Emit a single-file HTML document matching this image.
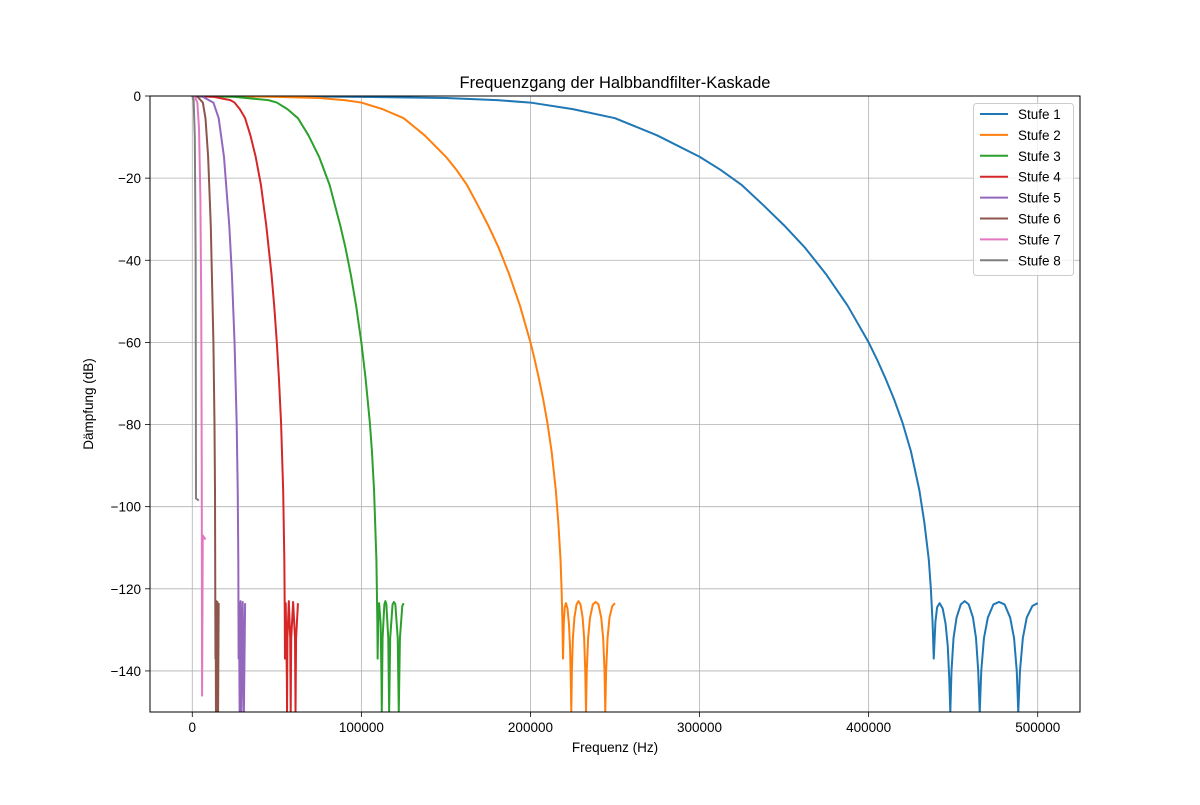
<!DOCTYPE html>
<html><head><meta charset="utf-8"><style>
body{margin:0;background:#fff;}
svg{font-family:"Liberation Sans","DejaVu Sans",sans-serif;}
</style></head><body>
<svg id="chart" width="1200" height="800" viewBox="0 0 1200 800">
<defs><clipPath id="clip"><rect x="150" y="96" width="930" height="616"/></clipPath></defs>
<rect width="1200" height="800" fill="#fff"/>
<text x="615" y="88" text-anchor="middle" font-size="16.5">Frequenzgang der Halbbandfilter-Kaskade</text>
<g id="grid"></g><g id="series" clip-path="url(#clip)"></g><g id="axes"></g><g id="legend"></g>
<text x="615" y="752" text-anchor="middle" font-size="13.5">Frequenz (Hz)</text>
<text transform="translate(93,404) rotate(-90)" text-anchor="middle" font-size="13.5">Dämpfung (dB)</text>
</svg>
<script>
const seriesNames = ["Stufe 1","Stufe 2","Stufe 3","Stufe 4","Stufe 5","Stufe 6","Stufe 7","Stufe 8"];
const xTicks = [0,100000,200000,300000,400000,500000];
const yTicks = [0,-20,-40,-60,-80,-100,-120,-140];
const stage1 = [[0,0],[50000,-0.05],[100000,-0.2],[150000,-0.5],[180000,-1],[200000,-1.6],[225000,-3.2],[250000,-5.4],[275000,-9.6],[300000,-14.8],[312500,-18],[325000,-21.7],[337500,-26.5],[350000,-31.5],[362500,-37],[375000,-43.5],[387500,-51],[400000,-60],[405000,-64.2],[410000,-68.8],[415000,-73.8],[420000,-79.5],[425000,-86.5],[430000,-96],[433000,-104],[435600,-113],[436800,-120],[437800,-128],[438500,-137],
[439500,-128],[440500,-124.5],[442000,-123.5],[443800,-124.8],[445500,-128.5],[446800,-134],[447700,-142],[448300,-150],
[449000,-140],[450200,-132],[452000,-127],[454500,-123.8],[456800,-123],[459200,-123.8],[461700,-127],[463500,-132],[464800,-140],[465700,-150],
[466600,-140],[468200,-132],[470500,-127],[473800,-123.8],[477100,-123.2],[480400,-123.8],[483700,-127],[486000,-132],[487600,-140],[488500,-150],
[489500,-140],[491200,-132],[493500,-127],[496800,-124.2],[500000,-123.5]];
const stage2 = [[0,0],[25000,-0.05],[50000,-0.2],[75000,-0.5],[90000,-1],[100000,-1.6],[112500,-3.2],[125000,-5.4],[137500,-9.6],[150000,-14.8],[156250,-18],[162500,-21.7],[168750,-26.5],[175000,-31.5],[181250,-37],[187500,-43.5],[193750,-51],[200000,-60],[202500,-64.2],[205000,-68.8],[207500,-73.8],[210000,-79.5],[212500,-86.5],[215000,-96],[216500,-104],[217800,-113],[218400,-120],[218900,-128],[219250,-137],
[219750,-128],[220250,-124.5],[221000,-123.5],[221900,-124.8],[222750,-128.5],[223400,-134],[223850,-142],[224150,-150],
[224500,-140],[225100,-132],[226000,-127],[227250,-123.8],[228400,-123],[229600,-123.8],[230850,-127],[231750,-132],[232400,-140],[232850,-150],
[233300,-140],[234100,-132],[235250,-127],[236900,-123.8],[238550,-123.2],[240200,-123.8],[241850,-127],[243000,-132],[243800,-140],[244250,-150],
[244750,-140],[245600,-132],[246750,-127],[248400,-124.2],[250000,-123.5]];
const stage3 = [[0,0],[25000,-0.2],[45000,-1],[50000,-1.6],[56250,-3.2],[62500,-5.4],[68750,-9.6],[75000,-14.8],[81250,-21.7],[87500,-31.5],[90625,-37],[93750,-43.5],[96875,-51],[100000,-60],[102500,-68.8],[105000,-79.5],[106250,-86.5],[107500,-96],[108900,-113],[109450,-128],[109625,-137],[110100,-124.5],[110500,-123.5],[111400,-128.5],[111900,-142],[112075,-150],[112550,-132],[113600,-123.8],[114200,-123],[114800,-123.8],[115900,-132],[116425,-150],[117050,-132],[118450,-123.8],[119275,-123.2],[120100,-123.8],[121500,-132],[122125,-150],[122800,-132],[124200,-124.2],[125000,-123.5]];
const stage4 = [[0,0],[12500,-0.2],[22500,-1],[25000,-1.6],[28125,-3.2],[31250,-5.4],[34375,-9.6],[37500,-14.8],[40625,-21.7],[43750,-31.5],[46875,-43.5],[48440,-51],[50000,-60],[51250,-68.8],[52500,-79.5],[53750,-96],[54450,-113],[54725,-128],[54810,-137],[55250,-123.5],[55950,-142],[56040,-150],[56275,-132],[57100,-123],[57925,-132],[58210,-150],[58525,-132],[59640,-123.2],[60750,-132],[61060,-150],[61400,-132],[62500,-123.5]];
const stage5 = [[0,0],[6250,-0.2],[12500,-1.6],[15625,-5.4],[18750,-14.8],[21875,-31.5],[23440,-43.5],[25000,-60],[26250,-79.5],[26875,-96],[27225,-113],[27400,-137],[27625,-123.5],[28020,-150],[28550,-123],[29100,-150],[29820,-123.2],[30530,-150],[31250,-123.5]];
const stage6 = [[0,0],[3125,-0.2],[6250,-1.6],[7810,-5.4],[9375,-14.8],[10940,-31.5],[12500,-60],[13125,-79.5],[13440,-96],[13700,-137],[13810,-123.5],[14010,-150],[14275,-123],[14550,-150],[14910,-123.2],[15265,-150],[15625,-123.5]];
const stage7 = [[0,0],[1500,-0.2],[3000,-1.6],[4000,-8],[4800,-25],[5300,-50],[5600,-90],[5800,-146],[6200,-107],[7812,-108]];
const stage8 = [[0,0],[800,-1],[1500,-10],[2000,-40],[2200,-98],[3906,-98.5]];
const colors = ["#1f77b4","#ff7f0e","#2ca02c","#d62728","#9467bd","#8c564b","#e377c2","#7f7f7f"];
const allSeries = [stage1,stage2,stage3,stage4,stage5,stage6,stage7,stage8];

const NS="http://www.w3.org/2000/svg";
const L=150,R=1080,T=96,B=712,xMin=-25000,xMax=525000,yMin=-150,yMax=0;
const xs=v=>L+(v-xMin)/(xMax-xMin)*(R-L);
const ys=v=>T+(yMax-v)/(yMax-yMin)*(B-T);
function mk(tag,attrs,parent){const e=document.createElementNS(NS,tag);for(const k in attrs)e.setAttribute(k,attrs[k]);parent.appendChild(e);return e;}
const grid=document.getElementById('grid'),axes=document.getElementById('axes'),ser=document.getElementById('series'),leg=document.getElementById('legend');
xTicks.forEach(t=>{const x=xs(t);
 const g=mk('line',{x1:x,x2:x,y1:T,y2:B,stroke:'#b0b0b0','stroke-width':0.8},grid);
 
 
 mk('line',{x1:x,x2:x,y1:B,y2:B+5,stroke:'#000','stroke-width':0.8},axes);
 const tx=mk('text',{x:x,y:B+20,'text-anchor':'middle','font-size':13.5},axes);
 
 
 tx.textContent=String(t);});
yTicks.forEach(t=>{const y=ys(t);
 const g=mk('line',{x1:L,x2:R,y1:y,y2:y,stroke:'#b0b0b0','stroke-width':0.8},grid);
 
 
 mk('line',{x1:L-5,x2:L,y1:y,y2:y,stroke:'#000','stroke-width':0.8},axes);
 const tx=mk('text',{x:L-9,y:y+5,'text-anchor':'end','font-size':13.5},axes);
 
 
 tx.textContent=String(t).replace('-','\u2212');});
const frame=mk('rect',{x:L,y:T,width:R-L,height:B-T,fill:'none',stroke:'#000','stroke-width':1},axes);


allSeries.forEach((s,i)=>{
 const p=mk('polyline',{points:s.map(d=>xs(d[0]).toFixed(2)+','+ys(d[1]).toFixed(2)).join(' '),fill:'none',stroke:colors[i],'stroke-width':2,'stroke-linejoin':'round'},ser);
 
 });
const box=mk('rect',{x:973.5,y:103.5,width:100,height:172,rx:3,fill:'#fff','fill-opacity':0.8,stroke:'#ccc'},leg);


seriesNames.forEach((n,i)=>{const y=114+i*20.9;
 const g=mk('g',{},leg);
 
 
 mk('line',{x1:980,x2:1008,y1:y,y2:y,stroke:colors[i],'stroke-width':2},g);
 const t=mk('text',{x:1018,y:y+5,'font-size':13.5},g);t.textContent=n;});
</script>
</body></html>
